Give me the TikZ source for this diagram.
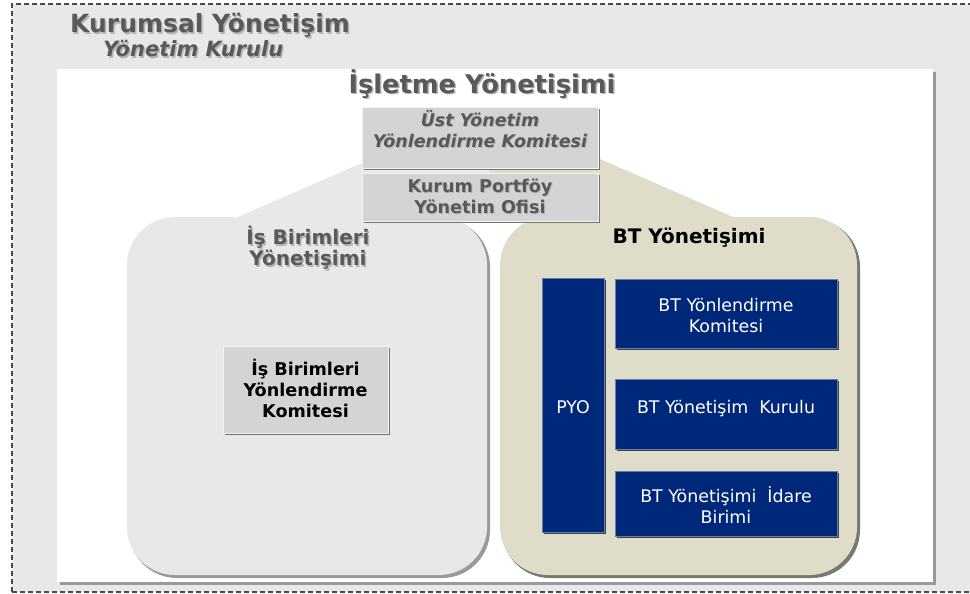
\documentclass[tikz,border=0pt]{standalone}
\usepackage{fontspec}
\setmainfont{DejaVu Sans}
\usetikzlibrary{shadows}
\definecolor{bggray}{HTML}{E8E8E8}
\definecolor{boxgray}{HTML}{D4D4D4}
\definecolor{beige}{HTML}{DFDCCA}
\definecolor{navy}{HTML}{00287A}
\definecolor{titlegray}{HTML}{595959}
\definecolor{tshadow}{HTML}{B4B4B4}
\definecolor{dashgray}{HTML}{4A4A4A}
\tikzset{
  ttlA/.style={font=\fontsize{25}{29}\selectfont\bfseries, inner sep=0},
  ttlB/.style={font=\fontsize{21}{24}\selectfont\bfseries\itshape, inner sep=0},
  ttlC/.style={font=\fontsize{25.7}{29}\selectfont\bfseries, inner sep=0},
  grayhead/.style={font=\fontsize{20}{21}\selectfont\bfseries, align=center, inner sep=0},
  grayboxtxt/.style={font=\fontsize{17.6}{21}\selectfont\bfseries, align=center, inner sep=0},
  italtxt/.style={font=\fontsize{17.5}{21}\selectfont\bfseries\itshape, align=center, inner sep=0},
  bluetxt/.style={font=\fontsize{17.4}{21}\selectfont, text=white, align=center, inner sep=0},
  graybox/.style={fill=boxgray, draw=white!70!boxgray, line width=0.8pt, anchor=north west, inner sep=0,
     drop shadow={shadow xshift=2pt, shadow yshift=-2pt, fill=black!55, opacity=1}},
  bluebox/.style={fill=navy, draw=navy!60!white, line width=0.8pt, anchor=north west, inner sep=0,
     drop shadow={shadow xshift=2pt, shadow yshift=-2pt, fill=black!75, opacity=1}},
}
\begin{document}
\begin{tikzpicture}[x=1pt,y=-1pt]
\useasboundingbox (0,0) rectangle (970,594);
\fill[white] (0,0) rectangle (970,594);
% outer frame
\fill[bggray] (12,4) rectangle (975,592);
\draw[dashgray, line width=1.3pt, dash pattern=on 5pt off 3pt] (12,592) -- (12,4) -- (975,4);
\draw[dashgray, line width=1.3pt, dash pattern=on 5pt off 3pt] (12,592) -- (975,592);
% titles
\node[ttlA, text=tshadow, anchor=base west] (kurs) at (71.5,34.5) {Kurumsal Yönetişim};
\node[ttlA, text=titlegray, anchor=base west] (kur) at (70,33) {Kurumsal Yönetişim};
\node[ttlB, text=tshadow, anchor=base west] (ykus) at (104.5,58.5) {Yönetim Kurulu};
\node[ttlB, text=titlegray, anchor=base west] (yku) at (103,57) {Yönetim Kurulu};
% white panel
\fill[black!40] (60,72) rectangle (936,585);
\fill[white] (57,69) rectangle (933,582);
% triangles
\fill[bggray] (362,163) -- (238,217) -- (490,217) -- (490,163) -- cycle;
\fill[beige] (600,159) -- (733,217) -- (490,217) -- (490,159) -- cycle;
% containers
\fill[black!40, rounded corners=48pt] (129,219) rectangle (490,578);
\fill[bggray, rounded corners=48pt] (127,217) rectangle (487,575);
\fill[black!45!beige, rounded corners=48pt] (502,219) rectangle (860,578);
\fill[beige, rounded corners=48pt] (500,217) rectangle (857,575);
% Isletme title
\node[ttlC, text=tshadow, anchor=base] (islets) at (483.5,94.5) {İşletme Yönetişimi};
\node[ttlC, text=titlegray, anchor=base] (islet) at (482,93) {İşletme Yönetişimi};
% top boxes
\node[graybox, minimum width=236pt, minimum height=61pt] (ust) at (362,107) {};
\node[graybox, minimum width=236pt, minimum height=48pt] (kpo) at (362,173) {};
\node[italtxt, text=tshadow] (ustts) at (481,130.5) {Üst Yönetim\\Yönlendirme Komitesi};
\node[italtxt, text=titlegray] (ustt) at (480,129.5) {Üst Yönetim\\Yönlendirme Komitesi};
\node[grayboxtxt, text=tshadow] (kpots) at (481,197.5) {Kurum Portföy\\Yönetim Ofisi};
\node[grayboxtxt, text=titlegray] (kpot) at (480,196.5) {Kurum Portföy\\Yönetim Ofisi};
% left container
\node[grayhead, text=tshadow] (ibys) at (309.5,249.5) {İş Birimleri\\Yönetişimi};
\node[grayhead, text=titlegray] (iby) at (308,248) {İş Birimleri\\Yönetişimi};
\node[graybox, minimum width=165pt, minimum height=87pt] (ibyk) at (223,346) {};
\node[grayboxtxt, text=black] (ibykt) at (305.5,388) {İş Birimleri\\Yönlendirme\\Komitesi};
% right container
\node[grayhead, text=black] (bty) at (689,238) {BT Yönetişimi};
\node[bluebox, minimum width=62pt, minimum height=254pt] (pyo) at (542,278) {};
\node[bluetxt] (pyot) at (573,407) {PYO};
\node[bluebox, minimum width=222pt, minimum height=69pt] (btyk) at (615,279) {};
\node[bluetxt] (btykt) at (726,316) {BT Yönlendirme\\Komitesi};
\node[bluebox, minimum width=222pt, minimum height=70pt] (btkur) at (615,379) {};
\node[bluetxt] (btkurt) at (726,409) {BT Yönetişim\ \ Kurulu};
\node[bluebox, minimum width=222pt, minimum height=65pt] (btib) at (615,471) {};
\node[bluetxt] (btibt) at (726,505) {BT Yönetişimi\ \ İdare\\Birimi};
\end{tikzpicture}
\end{document}
